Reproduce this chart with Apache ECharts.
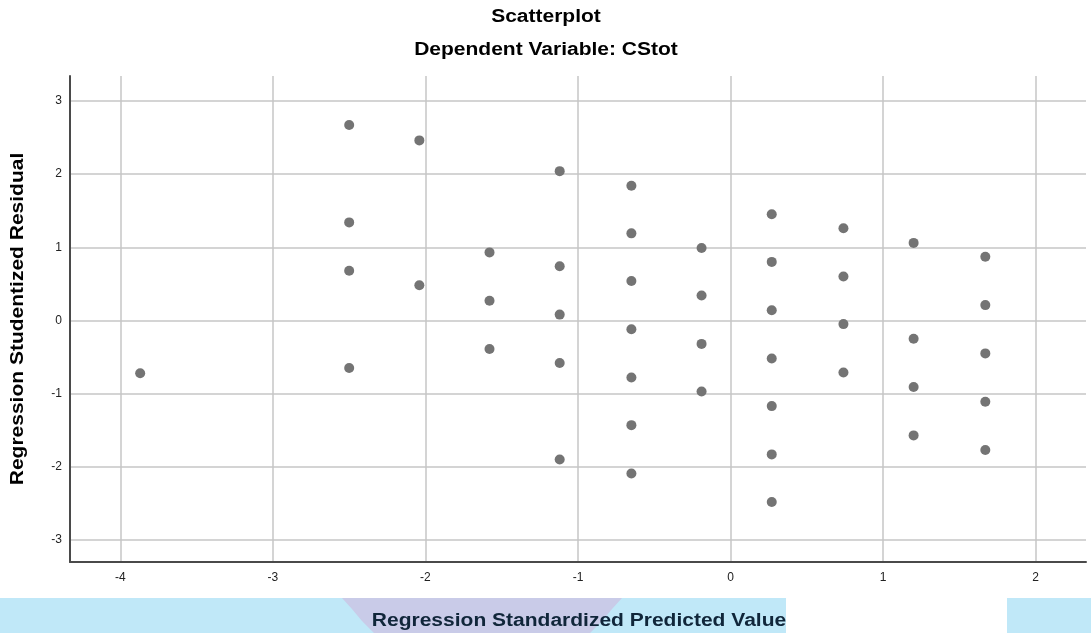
<!DOCTYPE html>
<html>
<head>
<meta charset="utf-8">
<script src="https://cdn.jsdelivr.net/npm/echarts@6/dist/echarts.min.js"></script>
<style>
html,body{margin:0;padding:0;background:#fff;}
#chart{width:1091px;height:633px;}
</style>
</head>
<body>
<div id="chart"></div>
<script>
// Regression standardized predicted values (x) and studentized residuals (y)
const predicted = [
  -3.87,
  -2.50, -2.50, -2.50, -2.50,
  -2.04, -2.04,
  -1.58, -1.58, -1.58,
  -1.12, -1.12, -1.12, -1.12, -1.12,
  -0.65, -0.65, -0.65, -0.65, -0.65, -0.65, -0.65,
  -0.19, -0.19, -0.19, -0.19,
  0.27, 0.27, 0.27, 0.27, 0.27, 0.27, 0.27,
  0.74, 0.74, 0.74, 0.74,
  1.20, 1.20, 1.20, 1.20,
  1.67, 1.67, 1.67, 1.67, 1.67
];
const residual = [
  -0.72,
  2.67, 1.34, 0.68, -0.65,
  2.46, 0.48,
  0.93, 0.27, -0.39,
  2.04, 0.74, 0.08, -0.58, -1.90,
  1.84, 1.19, 0.54, -0.12, -0.78, -1.43, -2.09,
  0.99, 0.34, -0.32, -0.97,
  1.45, 0.80, 0.14, -0.52, -1.17, -1.83, -2.48,
  1.26, 0.60, -0.05, -0.71,
  1.06, -0.25, -0.91, -1.57,
  0.87, 0.21, -0.45, -1.11, -1.77
];
const xTicks = [-4, -3, -2, -1, 0, 1, 2];
const yTicks = [-3, -2, -1, 0, 1, 2, 3];
const titleText = 'Scatterplot';
const subtitleText = 'Dependent Variable: CStot';
const xName = 'Regression Standardized Predicted Value';
const yName = 'Regression Studentized Residual';

const points = predicted.map((x, i) => [x, residual[i]]);

const chart = echarts.init(document.getElementById('chart'), null, {renderer: 'canvas'});
const gridColor = '#c6c6c6';
const axisColor = '#4a4a4a';
const font = 'Liberation Sans, Arial, sans-serif';
const stretch = 1.2;

function label(text, x, y, color, rotation) {
  return {
    type: 'text', x: x, y: y, rotation: rotation || 0, scaleX: stretch, z: 20, silent: true,
    style: {text: text, fontFamily: font, fontSize: 17.5, fontWeight: 'bold', fill: color,
            align: 'center', verticalAlign: 'middle'}
  };
}

chart.setOption({
  animation: false,
  backgroundColor: '#ffffff',
  graphic: [
    { type: 'rect', z: -10, silent: true, shape: {x: 0, y: 598, width: 786, height: 35}, style: {fill: '#c0e8f8'} },
    { type: 'rect', z: -10, silent: true, shape: {x: 1007, y: 598, width: 84, height: 35}, style: {fill: '#c0e8f8'} },
    { type: 'polygon', z: -9, silent: true, shape: {points: [[342,598],[622,598],[612,609],[602,621],[590,633],[374,633],[362,621],[352,609]]}, style: {fill: '#c9cbe8'} },
    label(titleText, 546, 17, '#000'),
    label(subtitleText, 546, 50, '#000'),
    label(xName, 579, 621, '#10263a'),
    label(yName, 18, 319, '#000', Math.PI / 2)
  ],
  grid: { left: 70, right: 5, top: 76, bottom: 71, containLabel: false, outerBoundsMode: 'none' },
  xAxis: {
    type: 'value', min: -4.33, max: 2.33,
    axisLine: {show: true, onZero: false, lineStyle: {color: axisColor, width: 2}},
    axisTick: {show: false, customValues: xTicks},
    axisLabel: {customValues: xTicks, fontFamily: font, fontSize: 12, color: '#222', margin: 10},
    splitLine: {show: true, lineStyle: {color: gridColor, width: 1.5}}
  },
  yAxis: {
    type: 'value', min: -3.30, max: 3.34,
    axisLine: {show: true, onZero: false, lineStyle: {color: axisColor, width: 2}},
    axisTick: {show: false, customValues: yTicks},
    axisLabel: {customValues: yTicks, fontFamily: font, fontSize: 12, color: '#222', margin: 8},
    splitLine: {show: true, lineStyle: {color: gridColor, width: 1.5}}
  },
  series: [{
    type: 'scatter',
    data: points,
    symbol: 'circle',
    symbolSize: 10,
    itemStyle: {color: '#747474', opacity: 1},
    z: 5
  }]
});
</script>
</body>
</html>
